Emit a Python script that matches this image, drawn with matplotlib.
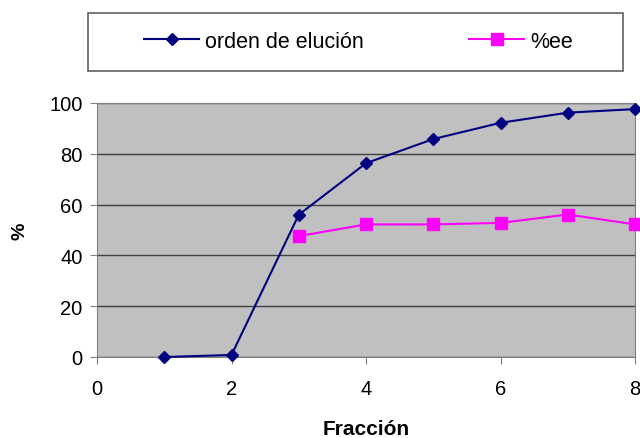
import matplotlib
matplotlib.use("Agg")
import matplotlib.pyplot as plt
from matplotlib.patches import Rectangle

plt.rcParams['font.family'] = ['Liberation Sans', 'DejaVu Sans']

fraccion_orden = [1, 2, 3, 4, 5, 6, 7, 8]
orden_elucion = [0, 0.8, 56, 76.3, 85.8, 92.2, 96.2, 97.6]
fraccion_ee = [3, 4, 5, 6, 7, 8]
ee = [47.6, 52.2, 52.2, 52.8, 56.1, 52.2]
xticks = [0, 2, 4, 6, 8]
yticks = [0, 20, 40, 60, 80, 100]

fig = plt.figure(figsize=(6.4, 4.39), dpi=100)
ax = fig.add_axes([97/640, 1-358/439, (635-97)/640, (358-104)/439])
ax.set_facecolor('#C0C0C0')
ax.set_xlim(0, 8)
ax.set_ylim(0, 100)
ax.set_xticks(xticks)
ax.set_yticks(yticks)
ax.yaxis.grid(True, color='#404040', linewidth=1)
ax.set_axisbelow(True)
for s in ['top', 'right', 'left', 'bottom']:
    ax.spines[s].set_color('#808080')
ax.tick_params(axis='both', direction='out', length=5, colors='#808080',
               labelcolor='black', labelsize=14.5)
ax.tick_params(axis='y', pad=5.5)
ax.tick_params(axis='x', pad=11)

l1, = ax.plot(fraccion_orden, orden_elucion, color='#000080', linewidth=1.5,
              marker='D', markersize=6.5, markerfacecolor='#000080',
              markeredgecolor='#000080', clip_on=False, zorder=3,
              label='orden de elución')
l2, = ax.plot(fraccion_ee, ee, color='#FF00FF', linewidth=1.5,
              marker='s', markersize=8.5, markerfacecolor='#FF00FF',
              markeredgecolor='#FF00FF', clip_on=False, zorder=3,
              label='%ee')

ax.set_xlabel('Fracción', fontsize=15, fontweight='bold', labelpad=15)
ax.set_ylabel('%', fontsize=14, fontweight='bold', labelpad=15)

fig.patches.append(Rectangle((88/640, 1-72/439), (623-88)/640, (72-14)/439,
                             transform=fig.transFigure, facecolor='white',
                             edgecolor='#606060', linewidth=1.2))
fig.legend(handles=[l1, l2], loc='center',
           bbox_to_anchor=(358.5/640, 1-42/439),
           ncol=2, frameon=False, fontsize=15.5, handlelength=2.55,
           handletextpad=0.28, columnspacing=4.9)

fig.savefig('out.png', dpi=100)
